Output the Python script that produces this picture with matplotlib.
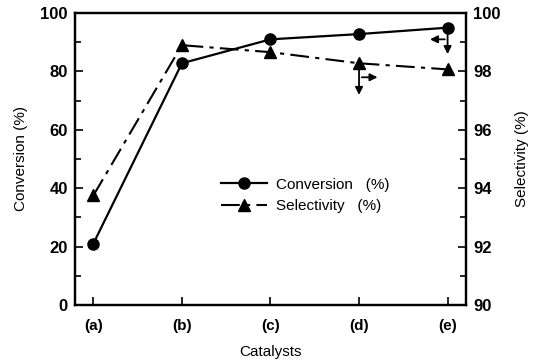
import matplotlib.pyplot as plt
from matplotlib.ticker import MultipleLocator

plt.rcParams["font.family"] = ["Liberation Sans", "DejaVu Sans"]

catalysts = ["(a)", "(b)", "(c)", "(d)", "(e)"]
conversion = [21.0, 82.8, 91.0, 92.8, 95.0]
selectivity = [93.75, 98.9, 98.66, 98.28, 98.07]

fig = plt.figure(figsize=(5.34, 3.63), dpi=100)
ax = fig.add_axes([0.140, 0.160, 0.733, 0.804])
ax2 = ax.twinx()

x = list(range(len(catalysts)))

l1, = ax.plot(x, conversion, color="black", lw=1.6, marker="o", ms=8,
              label="Conversion   (%)")
l2, = ax2.plot(x, selectivity, color="black", lw=1.5, marker="^", ms=8,
               dashes=(9, 3, 2, 3), label="Selectivity   (%)")

ax.set_xlim(-0.21, 4.21)
ax.set_ylim(0, 100)
ax2.set_ylim(90, 100)

ax.set_xticks(x)
ax.set_xticklabels(catalysts)
ax.yaxis.set_major_locator(MultipleLocator(20))
ax.yaxis.set_minor_locator(MultipleLocator(10))
ax2.yaxis.set_major_locator(MultipleLocator(2))
ax2.yaxis.set_minor_locator(MultipleLocator(1))

for a in (ax, ax2):
    a.tick_params(which="both", direction="in", labelsize=12, width=1.2)
    a.tick_params(which="major", length=6)
    a.tick_params(which="minor", length=4)
    for s in a.spines.values():
        s.set_linewidth(1.6)
    for lab in a.get_xticklabels() + a.get_yticklabels():
        lab.set_fontweight("bold")
ax.tick_params(axis="x", pad=10, labelsize=11)
ax.tick_params(axis="y", pad=5)
ax2.tick_params(axis="y", pad=5)

ax.set_xlabel("Catalysts", fontsize=11, labelpad=9)
ax.set_ylabel("Conversion (%)", fontsize=11, labelpad=9)
ax2.set_ylabel("Selectivity (%)", fontsize=11, labelpad=10)

# arrows pointing each series to its own axis
arr = dict(arrowstyle="-|>", color="black", lw=1.3, mutation_scale=11)
ax.annotate("", xy=(4, 85), xytext=(4, conversion[4]), arrowprops=arr)
ax.annotate("", xy=(3.77, 91), xytext=(4, 91), arrowprops=arr)
ax.annotate("", xy=(3, 71), xytext=(3, 82.9), arrowprops=arr)
ax.annotate("", xy=(3.24, 78), xytext=(3, 78), arrowprops=arr)

ax.legend(handles=[l1, l2], loc="upper left",
          bbox_to_anchor=(207 / 534, 1 - 164 / 363),
          bbox_transform=fig.transFigure, frameon=False, fontsize=11,
          handlelength=3, handletextpad=0.6, labelspacing=0.5)

fig.savefig("out.png", dpi=100)
